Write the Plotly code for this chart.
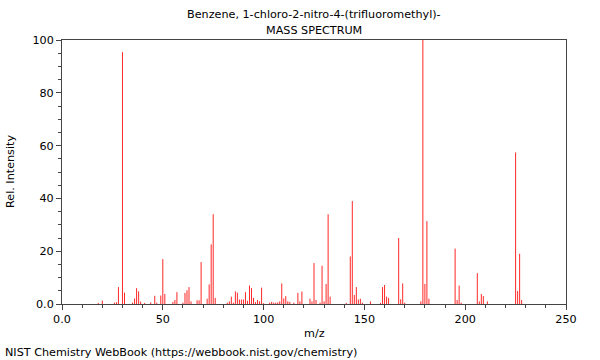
import plotly.graph_objects as go

mz = [18, 20, 26, 27, 28, 30, 31, 35, 36, 37, 38, 39, 41, 44, 46, 47, 49, 50, 51,
      55, 56, 57, 60, 61, 62, 63, 64, 67, 68, 69, 72, 73, 74, 75, 76,
      82, 83, 84, 85, 86, 87, 88, 89, 90, 91, 92, 93, 94, 95, 96, 97, 98, 99, 100,
      103, 104, 105, 106, 107, 108, 109, 110, 111, 112, 113, 115, 117, 118, 119,
      123, 124, 125, 126, 128, 129, 130, 131, 132, 133,
      141, 143, 144, 145, 146, 147, 148, 149, 153, 158, 159, 160, 161, 162,
      167, 168, 169, 170, 178, 179, 180, 181, 182,
      195, 196, 197, 198, 206, 207, 208, 209, 211, 225, 226, 227, 228]
intensity = [0.4, 1.3, 0.5, 0.7, 6.4, 95.4, 4.3, 0.5, 2.1, 6.0, 4.8, 0.9, 0.4, 0.6, 3.1, 0.5, 3.2, 17.0, 3.8,
             0.8, 1.5, 4.5, 0.5, 4.2, 5.2, 6.4, 1.0, 1.4, 1.4, 15.9, 2.0, 7.4, 22.6, 34.0, 2.3,
             0.5, 1.0, 2.8, 0.5, 4.8, 4.3, 1.7, 1.7, 1.7, 4.5, 1.2, 7.0, 6.0, 2.3, 0.7, 1.5, 1.0, 6.2, 0.3,
             0.5, 0.8, 0.5, 0.5, 0.6, 1.0, 7.8, 2.1, 3.0, 1.0, 0.8, 0.5, 4.2, 1.0, 4.7,
             2.0, 1.0, 15.5, 1.5, 0.5, 14.5, 1.0, 7.6, 34.0, 2.8,
             0.4, 18.0, 39.0, 3.4, 6.4, 1.7, 2.0, 0.5, 1.0, 0.4, 6.4, 7.2, 2.8, 2.3,
             25.0, 1.8, 7.8, 0.5, 1.0, 100.0, 7.6, 31.4, 2.0,
             21.0, 1.5, 7.0, 0.5, 11.7, 1.0, 3.8, 3.0, 1.0, 57.4, 4.9, 19.0, 1.5]

x_ticks = [0, 50, 100, 150, 200, 250]
x_ticktext = ["0.0", "50", "100", "150", "200", "250"]
y_ticks = [0, 20, 40, 60, 80, 100]
y_ticktext = ["0.0", "20", "40", "60", "80", "100"]

title_line1 = "Benzene, 1-chloro-2-nitro-4-(trifluoromethyl)-"
title_line2 = "MASS SPECTRUM"
x_title = "m/z"
y_title = "Rel. Intensity"
footer = "NIST Chemistry WebBook (https://webbook.nist.gov/chemistry)"

FONT = "DejaVu Sans"
FS = 11.2
W, H = 600, 360
L, R, T, B = 62, 566, 40, 304


def px(xp):
    return (xp - L) / (R - L)


def py(yp):
    return (B - yp) / (B - T)


# stick spectrum: one vertical segment per peak, separated by gaps
xs, ys = [], []
for m, v in zip(mz, intensity):
    xs += [m, m, None]
    ys += [0, v, None]

fig = go.Figure(go.Scatter(
    x=xs, y=ys, mode="lines",
    line=dict(color="rgb(255,40,40)", width=1),
    hoverinfo="x+y", cliponaxis=True,
))

axis_common = dict(
    showline=True, linecolor="#444444", linewidth=1, mirror=True,
    ticks="outside", ticklen=5, tickcolor="#444444", tickwidth=1,
    showgrid=False, zeroline=False,
    tickfont=dict(family=FONT, size=FS, color="#000000"),
)

fig.update_xaxes(range=[0, 250], tickvals=x_ticks, ticktext=x_ticktext,
                 minor=dict(dtick=10, ticks="outside", ticklen=3, tickcolor="#444444"),
                 **axis_common)
fig.update_yaxes(range=[0, 100], tickvals=y_ticks, ticktext=y_ticktext,
                 minor=dict(dtick=5, ticks="outside", ticklen=3, tickcolor="#444444"),
                 **axis_common)

annots = [
    dict(text=title_line1, x=px(314), y=py(14)),
    dict(text=title_line2, x=px(314), y=py(31)),
    dict(text=x_title, x=px(314), y=py(333)),
    dict(text=y_title, x=px(10), y=py(172), textangle=-90),
    dict(text=footer, x=px(3), y=py(352), xanchor="left"),
]
for a in annots:
    a.setdefault("xanchor", "center")
    fig.add_annotation(xref="paper", yref="paper", showarrow=False, yanchor="middle",
                       font=dict(family=FONT, size=FS, color="#000000"), **a)

fig.update_layout(
    width=W, height=H,
    margin=dict(l=L, r=W - R, t=T, b=H - B, pad=0),
    paper_bgcolor="white", plot_bgcolor="white",
    showlegend=False,
)

fig.write_html("out.html")
